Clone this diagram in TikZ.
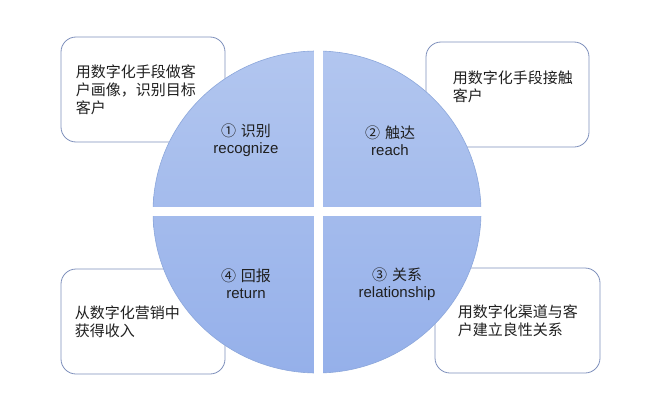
\documentclass[tikz,border=0pt]{standalone}
\usepackage{fontspec}
\setmainfont{Liberation Sans}
\newfontfamily\cjk{Noto Sans CJK SC}
\usetikzlibrary{positioning}
\definecolor{pieTop}{HTML}{B2C6EF}
\definecolor{pieBot}{HTML}{95B0EA}
\definecolor{pieRim}{HTML}{8CA7DB}
\definecolor{boxRim}{HTML}{7E90BC}

\begin{document}
\begin{tikzpicture}[x=1bp,y=1bp,inner sep=0pt]
  \tikzstyle{bx}=[draw=boxRim,line width=0.8bp,rounded corners=15bp,fill=white,minimum width=164bp,minimum height=105bp]
  \tikzstyle{tx}=[anchor=west,align=left,font=\cjk\fontsize{15bp}{18bp}\selectfont,text=black!88]
  \tikzstyle{lb}=[align=center,font=\fontsize{15bp}{17bp}\selectfont,text=black!88]
  \useasboundingbox(0,0)rectangle(660,413);
  % outer text boxes, behind the disc
  \node[bx](bTL)at(143,323.5){};
  \node[bx,minimum width=163bp](bTR)at(507.5,318.5){};
  \node[bx](bBL)at(143,91.5){};
  \node[bx,minimum width=165bp](bBR)at(517.5,92.5){};
  \node[tx](tTL)at([xshift=15bp]bTL.west){用数字化手段做客\\户画像，识别目标\\客户};
  \node[tx](tTR)at([xshift=27bp,yshift=7.5bp]bTR.west){用数字化手段接触\\客户};
  \node[tx](tBL)at([xshift=14bp]bBL.west){从数字化营销中\\获得收入};
  \node[tx](tBR)at([xshift=23bp,yshift=-0.5bp]bBR.west){用数字化渠道与客\\户建立良性关系};
  % disc cut in four
  \shade[top color=pieTop,bottom color=pieBot,draw=pieRim,line width=0.6bp](317,201)ellipse[x radius=164,y radius=161];
  \fill[white](313.5,35)rectangle(322.5,367);
  \fill[white](148,197)rectangle(486,206);
  \foreach\n/\x/\y/\k/\zh/\en in{q1/246/272.5/①/识别/recognize,q2/390/272.5/②/触达/reach,q3/397/129/③/关系/relationship,q4/246/129/④/回报/return}{\node[lb](\n)at(\x,\y){{\cjk\k\hspace{5bp}\zh}\\\en};}
\end{tikzpicture}
\end{document}
